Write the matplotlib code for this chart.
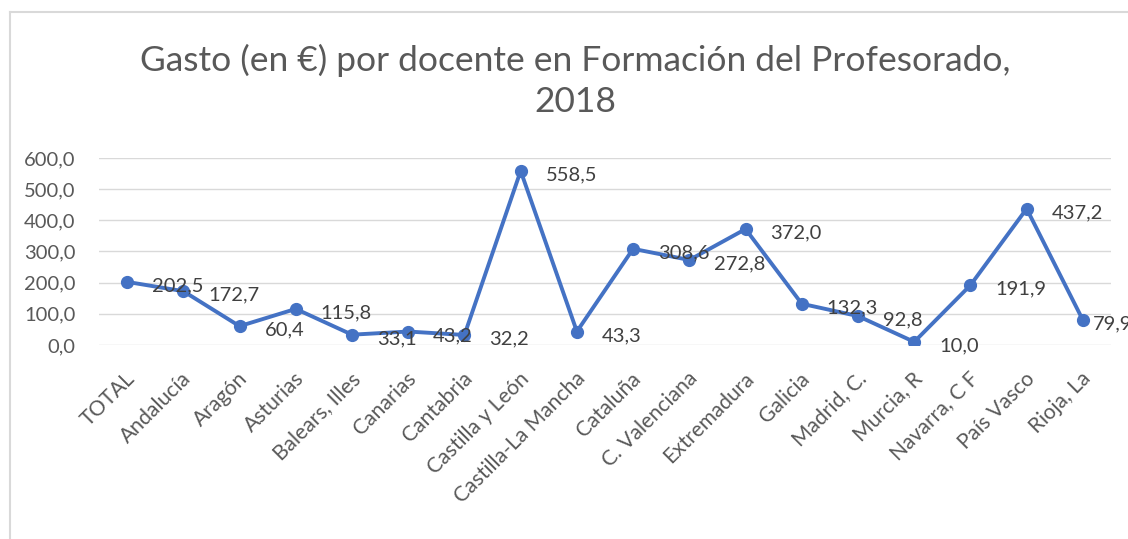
import matplotlib
matplotlib.use("Agg")
import matplotlib.pyplot as plt
from matplotlib.lines import Line2D
import matplotlib.transforms as mtransforms

categories = ["TOTAL", "Andalucía", "Aragón", "Asturias", "Balears, Illes", "Canarias",
              "Cantabria", "Castilla y León", "Castilla-La Mancha", "Cataluña",
              "C. Valenciana", "Extremadura", "Galicia", "Madrid, C.", "Murcia, R",
              "Navarra, C F", "País Vasco", "Rioja, La"]
values = [202.5, 172.7, 60.4, 115.8, 33.1, 43.2, 32.2, 558.5, 43.3, 308.6,
          272.8, 372.0, 132.3, 92.8, 10.0, 191.9, 437.2, 79.9]
yticks = [0, 100, 200, 300, 400, 500, 600]
title_line1 = "Gasto (en €) por docente en Formación del Profesorado,"
title_line2 = "2018"

FONT = "Lato"
plt.rcParams["font.family"] = [FONT, "DejaVu Sans"]

W, H = 1128, 539
fig = plt.figure(figsize=(W / 100, H / 100), dpi=100)
ax = fig.add_axes([99 / W, 1 - 345 / H, (1111 - 99) / W, (345 - 158) / H])

x = list(range(len(categories)))
ax.plot(x, values, color="#4472C4", lw=2.8, marker="o", ms=8.5, zorder=3,
        solid_joinstyle="round")

ax.set_xlim(-0.5, len(categories) - 0.5)
ax.set_ylim(0, 600)
ax.set_yticks(yticks)
ax.set_yticklabels([f"{v:.1f}".replace(".", ",") for v in yticks])
ax.grid(axis="y", color="#d9d9d9", lw=1.0)
ax.set_axisbelow(True)
for s in ax.spines.values():
    s.set_visible(False)
ax.tick_params(axis="y", length=0, pad=17, labelsize=14.5, labelcolor="#595959")
ax.tick_params(axis="x", length=0, pad=22, labelsize=15.2, labelcolor="#595959")
ax.set_xticks(x)
ax.set_xticklabels(categories, rotation=45, ha="right", va="center",
                   rotation_mode="anchor")
offset = mtransforms.ScaledTranslation(5 / 100, 0, fig.dpi_scale_trans)
for lab in ax.get_xticklabels():
    lab.set_transform(lab.get_transform() + offset)

# data labels
n = len(values)
for i, v in enumerate(values):
    dx = 18 if i < n - 1 else 7
    ax.annotate(f"{v:.1f}".replace(".", ","), (i, v), xytext=(dx, -3),
                textcoords="offset points", ha="left", va="center",
                fontsize=14.5, color="#404040", zorder=4, annotation_clip=False)

# title
fig.text(575 / W, 1 - 60 / H, title_line1, ha="center", va="center",
         fontsize=25.5, color="#595959")
fig.text(575 / W, 1 - 102 / H, title_line2, ha="center", va="center",
         fontsize=25.5, color="#595959")

# chart frame (left and top edges visible)
fig.add_artist(Line2D([10 / W, 10 / W], [0, 1 - 12 / H], transform=fig.transFigure,
                      color="#d9d9d9", lw=1.5))
fig.add_artist(Line2D([10 / W, 1], [1 - 12 / H, 1 - 12 / H], transform=fig.transFigure,
                      color="#d9d9d9", lw=1.5))

fig.savefig("out.png", dpi=100, facecolor="white")
